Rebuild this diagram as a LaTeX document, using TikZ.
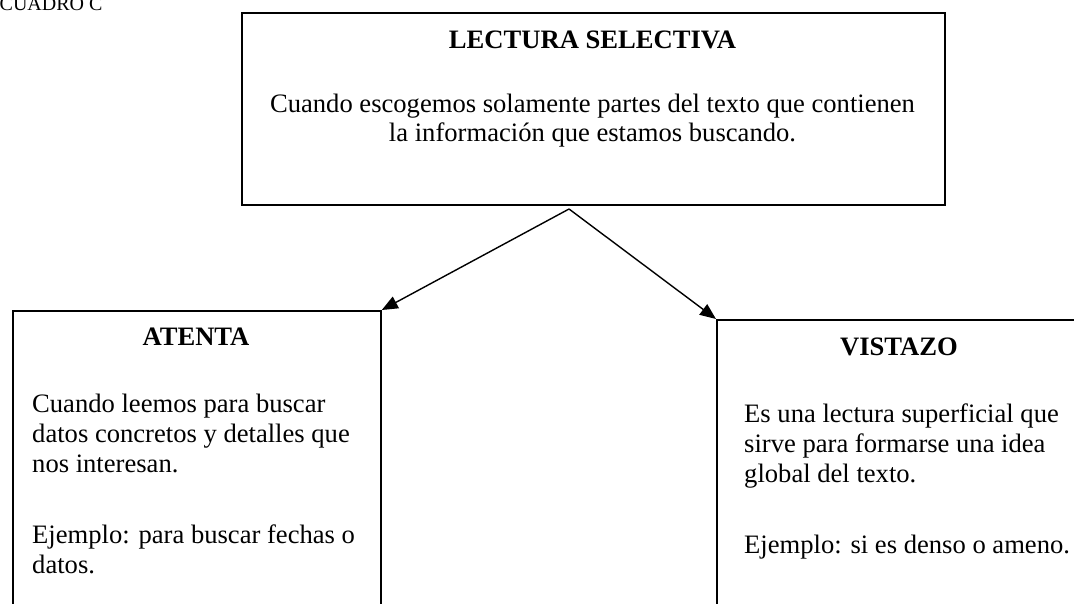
\documentclass[tikz,border=0pt]{standalone}
\usepackage{fontspec}
\setmainfont{Liberation Serif}
\usetikzlibrary{arrows.meta}
\begin{document}
\begin{tikzpicture}[x=1pt,y=-1pt,
  box/.style={draw, line width=1.8pt, rectangle, inner sep=0pt, anchor=north west},
  ttl/.style={font=\fontsize{26.6}{30}\selectfont\bfseries, anchor=base, inner sep=0pt},
  txt/.style={font=\fontsize{26.6}{30}\selectfont, anchor=base west, inner sep=0pt},
  ctxt/.style={font=\fontsize{26.6}{30}\selectfont, anchor=base, inner sep=0pt},
  arr/.style={-{Triangle[length=16pt,width=13pt]}, line width=1.4pt}]
\useasboundingbox (0,0) rectangle (1074,603);

\node[font=\fontsize{20}{22}\selectfont, anchor=base west, inner sep=0pt] (lbl) at (-0.5,10) {CUADRO C};

% top box
\node[box, minimum width=703pt, minimum height=192pt] (top) at (241,12) {};
\node[ttl] (toptitle) at (592.5,48) {LECTURA SELECTIVA};
\node[ctxt] (topl1) at (592.5,112) {Cuando escogemos solamente partes del texto que contienen};
\node[ctxt] (topl2) at (592.5,141) {la información que estamos buscando.};

% left box
\node[box, minimum width=368pt, minimum height=320pt] (atenta) at (12,310) {};
\node[ttl] (atitle) at (196,345) {ATENTA};
\node[txt] (a1) at (32,412) {Cuando leemos para buscar};
\node[txt] (a2) at (32,442) {datos concretos y detalles que};
\node[txt] (a3) at (32,472) {nos interesan.};
\node[txt] (a4) at (32,543) {Ejemplo: para buscar fechas o};
\node[txt] (a5) at (32,573) {datos.};

% right box
\node[box, minimum width=366pt, minimum height=320pt] (vistazo) at (716,319) {};
\node[ttl] (vtitle) at (899,355) {VISTAZO};
\node[txt] (v1) at (744,422) {Es una lectura superficial que};
\node[txt] (v2) at (744,452) {sirve para formarse una idea};
\node[txt] (v3) at (744,482) {global del texto.};
\node[txt] (v4) at (744,553) {Ejemplo: si es denso o ameno.};

% connectors
\coordinate (apex) at (569,209);
\draw[arr] (apex) -- (atenta.north east);
\draw[arr] (apex) -- (vistazo.north west);
\end{tikzpicture}
\end{document}
